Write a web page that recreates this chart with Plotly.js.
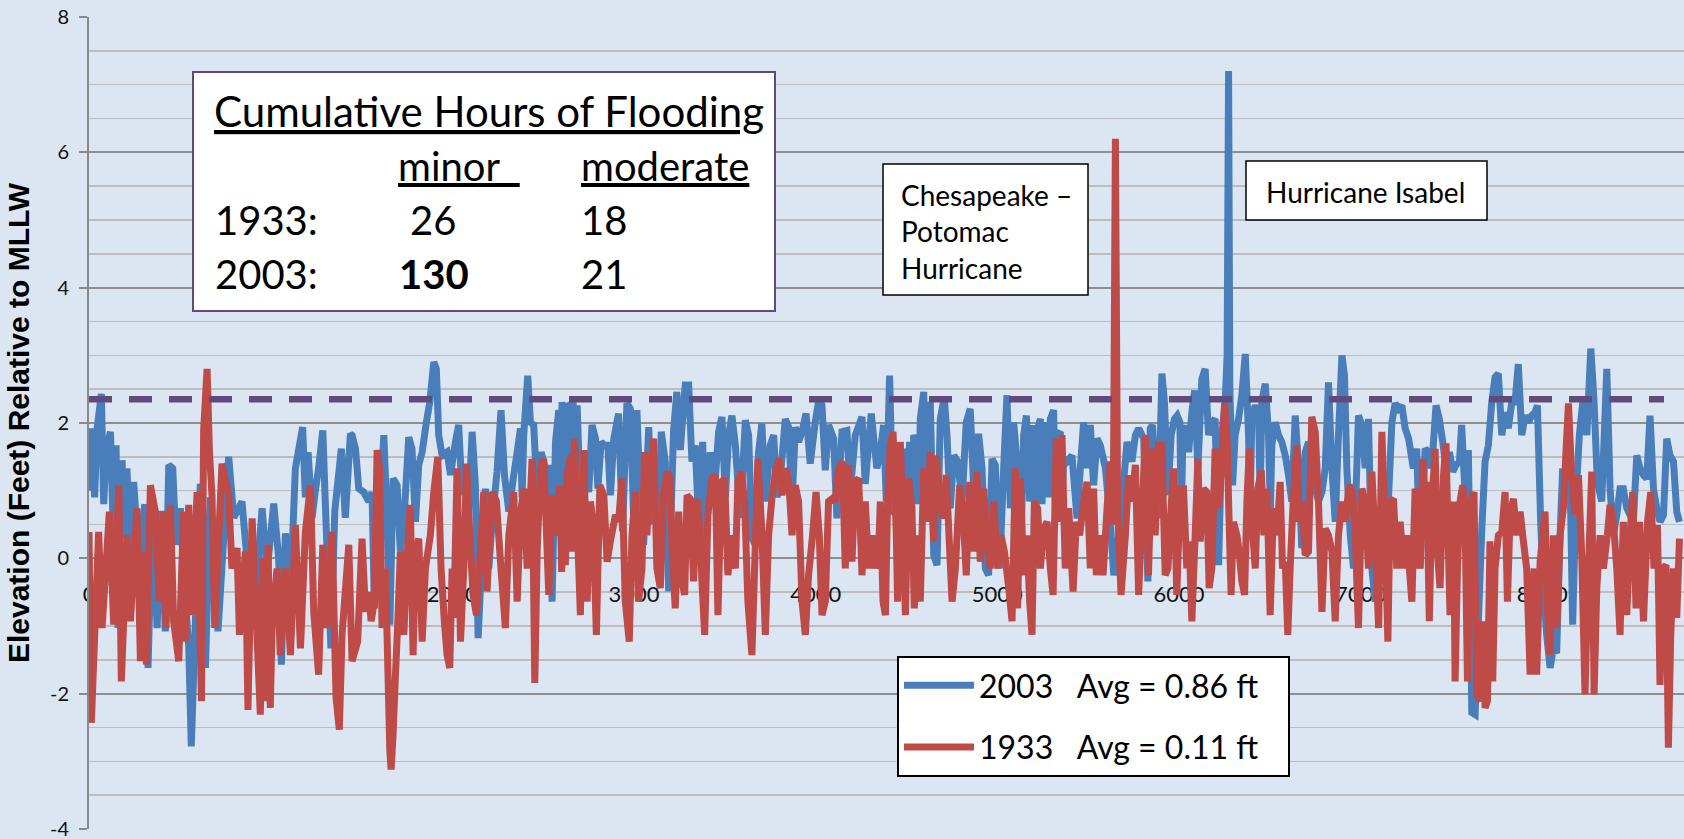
<!DOCTYPE html>
<html>
<head>
<meta charset="utf-8">
<script src="https://cdn.plot.ly/plotly-3.0.1.min.js"></script>
<style>
html,body{margin:0;padding:0;background:#dce6f2;}
#chart{width:1684px;height:839px;}
</style>
</head>
<body>
<div id="chart"></div>
<script>
// ---------------- DATA ----------------
// Hour of year and water level (feet relative to MLLW), 2003 series
const hours2003 = [
0,17,31,44,68,81,94,118,136,149,160,182,197,209,228,246,274,307,325,347,375,398,420,439,461,479,503,530,549,563,586,613,626,641,668,710,769,797,842,879,907,953,980,1017,1044,1059,1081,1109,1136,1176,1191,1206,1228,1246,1264,1287,1305,1332,1353,1389,1411,1439,
1448,1467,1485,1512,1540,1558,1571,1595,1623,1641,1656,1674,1696,1714,1733,1760,1778,1797,1815,1834,1857,1876,1898,1912,1925,1944,1971,1990,2017,2035,2054,2072,2085,2109,2127,2142,2164,2182,2201,2219,2246,2268,2287,2311,2338,2357,2375,2384,2393,2415,2430,2448,2467,2489,2512,2540,2549,2568,2586,2595,2604,2623,2632,2641,2665,2676,2687,2705,2724,2751,2769,2788,2801,2819,2837,2856,2870,2889,
2915,2937,2961,2980,2998,3016,3035,3053,3081,3099,3117,3136,3150,3172,3191,3218,3236,3255,3282,3301,3319,3337,3356,3378,3392,3420,3438,3466,3484,3503,3521,3539,3558,3585,3613,3631,3649,3668,3686,3704,3723,3750,3769,3787,3805,3833,3851,3870,3888,3906,3925,3947,3970,3998,4020,4035,4053,4071,4099,4117,4145,4172,4191,4218,4255,4273,4306,4337,
4356,4374,4389,4407,4426,4444,4466,4494,4505,4517,4528,4540,4558,4567,4576,4595,4604,4613,4631,4650,4668,4686,4708,4723,4741,4760,4782,4806,4829,4851,4873,4897,4916,4934,4952,4971,4989,5013,5035,5053,5072,5090,5108,5127,5145,5160,5178,5200,5209,5218,5237,5246,5255,5274,5283,5292,5310,5320,5329,5347,5356,5365,5384,5411,5439,5457,5475,5494,5512,5530,5549,5567,5595,5622,5641,5668,5686,5714,5741,5760,5778,5806,
5829,5842,5854,5869,5887,5906,5920,5939,5957,5975,5990,6005,6012,6020,6034,6053,6071,6086,6104,6126,6144,6163,6181,6199,6218,6236,6254,6265,6273,6280,6295,6309,6328,6346,6365,6383,6392,6401,6420,6438,6447,6456,6475,6493,6503,6511,6530,6548,6566,6585,6603,6621,6640,6658,6676,6695,6713,6731,6750,6768,6787,6805,6823,6842,6860,6878,6897,6911,6924,6943,6961,6988,7007,7025,7043,7062,7080,7099,7117,7135,7154,7172,7190,7209,7227,7245,7264,
7290,7309,7327,7355,7373,7391,7415,7433,7452,7470,7489,7507,7525,7544,7556,7575,7593,7612,7630,7648,7667,7685,7703,7722,7740,7758,7777,7795,7813,7832,7850,7868,7887,7905,7923,7942,7960,7973,7991,8006,8024,8043,8061,8079,8098,8112,8131,8149,8167,8186,8204,8223,8245,8267,8285,8303,8327,8355,8373,8391,8410,8428,8446,8465,8483,8501,8520,8538,8557,8575,8593,8612,8630,8648,8667,8685,8703,8722,8740,8755
];
const level2003 = [
1.0,1.92,0.9,1.9,2.43,0.8,1.6,1.87,0.2,1.67,-1.03,1.45,0.3,1.33,-0.2,1.13,0.0,0.8,-1.62,0.6,-1.03,0.7,-1.08,1.38,1.33,0.2,0.74,-0.6,-1.3,-2.78,-0.9,1.1,0.7,-1.62,0.9,-1.08,1.5,0.6,0.84,-0.3,-0.9,0.74,-0.2,0.81,0.0,-1.57,0.37,-0.5,1.33,1.94,0.9,1.57,0.6,1.0,1.33,1.89,0.5,-1.33,0.7,1.62,0.6,1.84,
1.82,1.62,1.03,0.98,0.84,0.98,-0.74,0.34,1.82,0.54,-0.98,1.18,1.08,0.1,0.54,1.79,1.62,0.54,1.38,1.57,2.01,2.31,2.9,2.8,1.82,1.52,1.57,1.23,1.72,1.97,0.93,1.38,0.44,1.87,1.08,-1.18,0.1,1.03,-0.15,0.54,1.28,2.19,1.23,0.69,1.23,1.57,1.92,0.9,1.82,2.7,2.01,1.97,0.93,1.57,1.33,1.33,-0.64,1.72,2.19,0.7,2.31,1.57,0.8,2.26,2.29,0.9,2.26,0.84,1.57,0.98,1.97,1.77,1.03,1.72,1.67,1.67,0.93,1.77,
2.14,0.4,2.29,2.21,0.6,2.19,0.8,0.2,1.94,0.5,1.0,0.3,1.87,1.43,-0.49,1.89,2.46,1.6,2.56,2.56,1.43,1.67,0.54,1.72,0.34,1.57,0.8,1.87,2.09,0.9,1.82,2.11,1.67,0.6,2.04,1.82,0.3,0.2,1.57,1.99,0.84,1.67,1.82,0.9,1.18,2.06,1.94,0.8,1.94,1.72,1.87,2.14,1.4,2.02,2.38,2.26,1.3,1.97,1.77,0.59,1.87,1.89,1.0,1.82,2.09,1.1,2.14,1.33,
1.57,1.97,0.84,2.7,0.64,1.57,0.34,1.62,0.6,1.72,0.7,1.82,1.67,0.8,2.06,2.46,0.9,1.97,2.31,0.05,-0.1,2.06,2.38,1.82,0.74,1.52,1.43,0.84,2.01,2.21,0.84,1.84,1.33,-0.15,-0.25,1.47,1.38,-0.15,1.33,2.41,0.74,2.01,1.43,-0.15,1.82,2.11,0.84,1.97,0.7,1.87,2.06,0.8,1.67,2.01,0.9,2.06,2.19,0.7,1.82,1.87,0.8,1.47,1.43,1.52,0.59,1.33,2.01,1.33,1.97,1.08,1.77,1.67,1.33,0.54,-0.25,0.34,0.84,1.72,1.43,1.82,1.92,1.77,
-0.34,1.92,1.97,1.33,0.59,2.73,2.31,0.93,1.82,2.06,2.11,2.01,0.6,1.57,1.97,1.57,2.16,2.48,1.33,2.65,2.8,1.82,2.01,2.06,-0.1,1.82,2.31,3.0,7.2,2.5,1.08,1.82,2.06,2.41,3.02,1.82,0.8,2.06,2.26,2.16,0.9,2.31,2.58,1.82,0.7,1.67,2.01,1.82,1.72,1.52,1.23,0.84,2.11,1.33,0.15,1.57,1.72,1.23,1.03,0.84,0.98,1.33,2.6,1.33,0.54,1.82,3.0,2.7,1.33,0.34,-0.15,2.11,1.97,1.33,2.06,-0.15,-0.64,-0.15,0.34,0.54,0.93,2.01,2.29,2.21,2.26,1.92,1.77,
1.33,1.62,-0.15,1.62,1.57,1.33,2.26,2.06,1.72,1.33,1.57,1.28,1.38,1.43,1.97,0.93,1.6,-2.28,-2.31,-0.93,0.44,1.43,1.67,2.31,2.68,2.73,1.82,2.16,1.92,2.31,2.31,2.87,1.82,2.11,2.01,2.11,2.16,2.26,0.54,-0.44,-1.13,-1.62,-1.33,-1.4,0.34,1.33,0.93,1.82,-0.98,0.93,1.82,2.31,1.82,3.1,2.31,1.13,0.84,2.8,1.03,0.34,0.64,1.03,1.03,0.74,0.64,0.54,1.52,1.33,1.23,1.18,2.11,1.03,0.74,0.54,0.64,1.77,1.52,1.43,0.69,0.54
];

// Hour of year and water level (feet relative to MLLW), 1933 series
const hours1933 = [
0,13,53,72,112,136,164,178,209,228,264,283,307,316,338,365,387,411,424,448,466,494,521,530,549,567,595,619,631,650,663,677,692,732,769,787,815,828,861,875,898,943,956,971,986,998,1008,1035,1053,1081,1109,1136,1164,1191,1219,1237,1264,1287,1310,1338,1360,1378,1393,1430,
1448,1479,1503,1522,1540,1553,1571,1586,1600,1613,1632,1645,1656,1663,1674,1687,1700,1714,1733,1751,1769,1784,1797,1815,1834,1852,1879,1898,1920,1938,1956,1971,1986,1999,2008,2026,2045,2063,2078,2096,2114,2133,2155,2173,2191,2219,2243,2265,2292,2311,2338,2357,2375,2393,2412,2439,2454,2467,2485,2503,2531,2549,2568,2591,2602,2613,2622,2632,2650,2660,2672,2687,2705,2724,2742,2760,2775,2793,2812,2834,2852,2870,2898,
2915,2934,2952,2974,2989,3007,3025,3044,3058,3071,3090,3108,3126,3145,3163,3181,3200,3209,3227,3246,3264,3279,3292,3310,3328,3347,3365,3374,3389,3407,3429,3448,3462,3481,3499,3517,3536,3558,3572,3591,3609,3627,3649,3664,3682,3704,3723,3741,3759,3778,3800,3815,3833,3851,3870,3888,3906,3925,3943,3961,3983,4002,4020,4035,4053,4071,4090,4108,4126,4148,4163,4182,4200,4218,4237,4255,4273,4292,4310,4328,4347,
4356,4371,4384,4396,4411,4426,4444,4451,4466,4481,4494,4512,4530,4543,4562,4576,4595,4613,4631,4650,4664,4683,4701,4719,4738,4751,4769,4793,4811,4829,4848,4866,4888,4906,4925,4943,4961,4980,5002,5020,5039,5063,5081,5099,5112,5127,5145,5163,5178,5191,5204,5222,5237,5255,5274,5292,5307,5325,5340,5356,5374,5393,5417,5435,5453,5475,5494,5512,5530,5545,5563,5582,5604,5622,5638,5650,5662,5681,5705,5723,5741,5760,5778,5796,5815,
5832,5851,5869,5887,5906,5924,5939,5952,5970,5988,6007,6025,6043,6056,6071,6089,6104,6117,6135,6153,6166,6181,6199,6218,6236,6251,6264,6276,6287,6300,6319,6331,6346,6361,6374,6387,6401,6420,6434,6453,6467,6484,6502,6520,6539,6557,6570,6585,6599,6612,6631,6649,6662,6676,6695,6713,6731,6750,6768,6787,6805,6823,6842,6860,6878,6897,6915,6937,6955,6970,6988,7007,7025,7043,7062,7080,7099,7117,7135,7150,7163,7181,7199,7218,7236,7254,7282,
7300,7312,7327,7342,7355,7364,7378,7391,7410,7422,7437,7456,7470,7483,7492,7511,7520,7533,7547,7562,7575,7588,7606,7624,7639,7657,7672,7685,7698,7712,7727,7740,7758,7777,7795,7808,7823,7841,7859,7878,7896,7914,7933,7955,7969,7988,8015,8028,8043,8061,8079,8098,8116,8131,8144,8162,8180,8199,8217,8235,8254,8272,8285,8300,8318,8336,8358,8373,8391,8410,8428,8446,8465,8483,8498,8516,8535,8557,8579,8597,8615,8634,8648,8663,8681,8694,8707,8722,8740,8755
];
const level1933 = [
0.39,-2.43,0.39,-1.03,0.69,-0.98,1.08,-1.82,0.34,-0.93,0.74,-1.52,0.1,-1.57,1.08,0.69,-0.64,0.69,-1.03,0.79,-0.93,-1.52,0.69,-1.23,0.79,-0.84,0.98,-2.11,1.89,2.8,1.57,0.93,-1.03,1.4,0.93,-0.15,0.15,-1.13,0.1,-2.24,0.59,-2.31,0.0,-2.11,0.2,-2.21,-0.98,-0.15,-1.43,-0.15,-1.43,0.49,-1.33,0.39,1.08,-0.79,-1.72,0.2,-1.03,0.39,-2.06,-2.53,-1.13,0.2,
-1.52,-1.23,0.29,-0.79,-0.5,-0.93,-0.64,1.6,1.33,-1.03,-0.15,-1.62,-2.85,-3.12,-2.6,-1.72,-0.93,0.1,-1.13,0.0,0.79,-1.43,0.1,0.29,-1.23,-0.15,0.34,0.98,1.5,-0.15,-0.93,-1.43,-1.62,-0.15,-0.88,1.33,-1.23,-0.15,1.4,0.34,-0.54,-0.84,0.1,0.98,-0.49,0.98,0.84,-0.05,-1.03,0.34,0.98,-0.64,0.64,1.03,-0.15,1.47,-1.84,0.1,1.33,1.47,-0.54,0.93,0.34,1.08,-0.2,0.54,-0.1,1.23,1.52,0.1,1.77,0.54,-0.84,1.6,-0.64,0.84,0.54,-1.13,1.08,0.93,-0.05,0.25,0.64,
0.54,1.18,-0.64,-1.23,0.34,0.98,-0.64,-0.15,1.57,0.34,1.33,1.77,-0.15,-0.44,0.93,1.28,1.18,0.15,-0.74,0.69,-0.34,-0.54,0.93,0.88,-0.34,0.88,0.34,-0.34,-1.13,0.64,1.18,1.23,-0.84,1.13,1.18,-0.25,0.34,-0.15,1.13,1.28,0.84,-0.64,-1.43,-0.15,1.47,0.39,-1.13,0.34,0.88,1.28,1.47,0.93,1.33,1.18,0.34,1.08,0.84,-0.64,-1.13,-0.25,0.34,0.98,0.34,-0.84,-0.64,0.84,0.88,0.84,1.33,1.43,-0.15,1.38,-0.05,1.13,1.18,-0.25,0.84,-0.15,0.34,-0.15,0.15,
0.84,-0.64,-0.84,0.84,1.67,1.87,0.34,-0.64,1.72,0.54,-0.84,1.18,0.74,-0.74,0.34,-0.64,1.33,0.54,1.57,0.25,1.52,0.84,0.59,1.23,0.1,-0.64,-0.15,1.08,0.69,-0.25,1.13,0.1,1.28,-0.05,1.03,0.25,-0.15,0.84,-0.15,0.34,0.1,-0.44,-0.93,1.33,-0.74,1.18,-0.25,0.34,-0.64,-1.13,0.84,0.74,-0.15,0.44,0.54,-0.15,-0.54,1.77,0.54,1.82,-0.15,0.74,-0.49,0.54,0.34,0.84,1.13,-0.15,1.03,-0.25,0.34,-0.25,0.74,1.43,0.5,6.2,0.8,-0.54,0.34,1.23,0.84,1.38,-0.54,0.64,1.82,
-0.25,1.62,0.34,1.67,1.67,-0.25,-0.15,0.54,1.33,-0.54,1.03,1.03,-0.15,0.25,-0.93,0.34,1.47,0.25,1.03,0.98,-0.44,-0.15,1.62,0.74,1.43,2.29,1.82,0.54,-0.54,0.54,0.34,0.1,-0.34,-0.54,0.84,1.62,0.54,-0.15,1.03,1.3,0.34,1.03,-0.84,0.74,0.34,1.13,-0.15,-0.05,-1.13,-0.15,0.98,1.67,0.54,0.84,0.05,0.1,2.09,1.87,0.84,-0.79,0.44,0.34,0.1,-0.93,0.34,0.84,0.54,1.08,0.98,0.34,-1.03,1.03,0.84,-0.15,1.28,0.25,-1.03,1.87,0.34,-1.23,0.84,0.88,-0.15,0.54,-0.15,0.34,-0.64,
1.03,0.25,-0.15,1.47,0.84,1.13,-0.93,0.74,1.62,0.1,-0.44,1.23,1.7,0.15,-0.84,0.84,-1.82,-0.15,0.84,1.08,0.54,-1.82,0.84,0.98,-2.01,-2.11,-0.93,-2.21,-2.11,0.25,-1.82,-0.15,0.34,0.39,0.98,-0.64,0.64,0.88,0.34,0.69,0.25,-0.15,-1.72,-0.15,-1.72,-0.05,0.69,-0.74,-1.43,0.34,-1.03,0.34,0.74,1.62,2.29,1.18,0.64,1.23,0.05,-2.01,-0.15,1.28,-2.01,-0.44,0.34,-0.15,0.34,0.79,0.54,-0.15,-1.13,0.54,-0.84,0.34,0.98,-0.74,0.54,-0.93,0.54,0.98,-0.15,0.49,-1.87,-0.15,-0.1,-2.8,-1.13,-0.15,-0.88,0.29
];

const NB = '\u00a0';
const seriesNames = ['2003' + NB.repeat(3) + 'Avg = 0.86 ft' + NB.repeat(3),
                     '1933' + NB.repeat(3) + 'Avg = 0.11 ft' + NB.repeat(3)];
const minorFloodLevel = 2.35;           // dashed threshold (ft)
const thresholdSpan = [0, 8670];        // hours covered by the dashed line
const xTickVals = [0,1000,2000,3000,4000,5000,6000,7000,8000];
const xTickText = ['0','1000','2000','3000','4000','5000','6000','7000','8000'];
const yTickVals = [-4,-2,0,2,4,6,8];
const yTickText = ['-4','-2','0','2','4','6','8'];
const xRange = [0, 8780];
const yRange = [-4, 8];
const yTitle = 'Elevation (Feet) Relative to MLLW';

const tableTitle = 'Cumulative Hours of Flooding';
const tableCols = ['minor', 'moderate'];
const tableRows = ['1933:', '2003:'];
const tableMinor = ['26', '<b>130</b>'];
const tableModerate = ['18', '21'];
const noteChesapeake = 'Chesapeake \u2013<br>Potomac<br>Hurricane';
const noteIsabel = 'Hurricane Isabel';

// ---------------- LAYOUT HELPERS ----------------
const W = 1684, H = 839;
const M = {l: 89, r: 0, t: 17, b: 10};
const PW = W - M.l - M.r, PH = H - M.t - M.b;
const px = x => (x - M.l) / PW;      // page pixel -> paper fraction
const py = y => (H - M.b - y) / PH;

const FONT = 'Lato, "Open Sans", sans-serif';
const BLUE = '#4a7ebb', RED = '#be4b48', PURPLE = '#604a7b';
const LW = 7;

const traces = [
  {x: hours2003, y: level2003, type: 'scatter', mode: 'lines', name: seriesNames[0],
   legendgroup: 'a', line: {color: BLUE, width: LW, simplify: false}, hoverinfo: 'skip'},
  {x: hours1933, y: level1933, type: 'scatter', mode: 'lines', name: seriesNames[1],
   legendgroup: 'b', line: {color: RED, width: LW, simplify: false}, hoverinfo: 'skip'},
  {x: thresholdSpan, y: [minorFloodLevel, minorFloodLevel], type: 'scatter', mode: 'lines',
   showlegend: false, line: {color: PURPLE, width: 6.5, dash: '23px,17px'}, hoverinfo: 'skip'}
];

function txt(text, x, y, size, opts) {
  return Object.assign({
    text: text, xref: 'paper', yref: 'paper', x: px(x), y: py(y),
    xanchor: 'left', yanchor: 'middle', showarrow: false, align: 'left',
    font: {family: FONT, size: size, color: '#000'}
  }, opts || {});
}

const annotations = [
  txt('<u>' + tableTitle + '</u>', 212, 111, 42),
  txt('<u>' + tableCols[0] + NB + NB + '</u>', 396, 166, 40),
  txt('<u>' + tableCols[1] + '</u>', 579, 166, 40),
  txt(tableRows[0], 213, 220, 40),
  txt(tableMinor[0], 408, 220, 40),
  txt(tableModerate[0], 579, 220, 40),
  txt(tableRows[1], 213, 274, 40),
  txt(tableMinor[1], 397, 274, 40),
  txt(tableModerate[1], 579, 274, 40),
  txt(noteChesapeake, 899, 232, 28),
  txt(noteIsabel, 1264, 192, 28)
];

const shapes = [
  {type: 'rect', xref: 'paper', yref: 'paper', x0: px(193), x1: px(775), y0: py(311), y1: py(72),
   fillcolor: '#ffffff', line: {color: PURPLE, width: 2}, layer: 'above'},
  {type: 'rect', xref: 'paper', yref: 'paper', x0: px(883), x1: px(1088), y0: py(295), y1: py(164),
   fillcolor: '#ffffff', line: {color: '#000', width: 1.5}, layer: 'above'},
  {type: 'rect', xref: 'paper', yref: 'paper', x0: px(1246), x1: px(1487), y0: py(220), y1: py(161),
   fillcolor: '#ffffff', line: {color: '#000', width: 1.5}, layer: 'above'}
];

const layout = {
  width: W, height: H,
  margin: {l: M.l, r: M.r, t: M.t, b: M.b, pad: 0},
  paper_bgcolor: '#dce6f2', plot_bgcolor: '#dce6f2',
  font: {family: FONT, color: '#000'},
  showlegend: true,
  legend: {
    x: px(897), y: py(656), xanchor: 'left', yanchor: 'top',
    bgcolor: '#ffffff', bordercolor: '#000', borderwidth: 2,
    font: {family: FONT, size: 32, color: '#000'},
    traceorder: 'grouped', tracegroupgap: 17, itemwidth: 70
  },
  xaxis: {
    range: xRange, anchor: 'free', position: (0 - yRange[0]) / (yRange[1] - yRange[0]),
    tickmode: 'array', tickvals: xTickVals, ticktext: xTickText,
    ticks: '', showgrid: false, zeroline: false, showline: false,
    layer: 'below traces', ticklabelstandoff: 21,
    tickfont: {family: FONT, size: 22, color: '#111'}
  },
  yaxis: {
    range: yRange, tickmode: 'array', tickvals: yTickVals, ticktext: yTickText,
    showgrid: true, gridcolor: '#8e8e8e', gridwidth: 2,
    minor: {dtick: 0.5, showgrid: true, gridcolor: '#bdbdbd', gridwidth: 1.5, ticks: ''},
    zeroline: false, showline: true, linecolor: '#8a8a8a', linewidth: 2,
    ticks: 'outside', ticklen: 8, tickwidth: 2, tickcolor: '#8a8a8a',
    ticklabelstandoff: 6, ticklabeloverflow: 'allow',
    tickfont: {family: FONT, size: 20, color: '#111'},
    title: {text: NB.repeat(12) + yTitle, standoff: 11,
            font: {family: '"Liberation Sans", Arial, sans-serif', size: 30, weight: 'bold', color: '#000'}}
  },
  shapes: shapes,
  annotations: annotations
};

Plotly.newPlot('chart', traces, layout, {staticPlot: true, displayModeBar: false});
</script>
</body>
</html>
